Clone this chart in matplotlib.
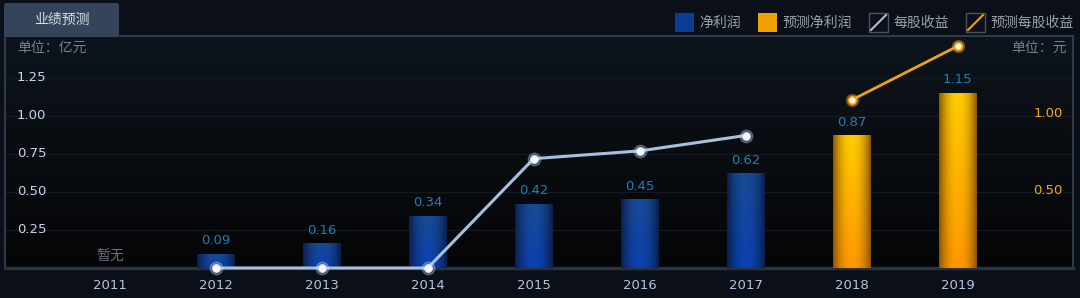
import numpy as np
import matplotlib
matplotlib.use("Agg")
import matplotlib.pyplot as plt
from matplotlib.patches import Rectangle, FancyBboxPatch

plt.rcParams['font.family'] = ['DejaVu Sans', 'Noto Sans CJK SC']
CJK = ['Noto Sans CJK SC', 'DejaVu Sans']

# data
years = ['2011', '2012', '2013', '2014', '2015', '2016', '2017', '2018', '2019']
profit = [None, 0.09, 0.16, 0.34, 0.42, 0.45, 0.62]          # 净利润 (亿元)
profit_fc = [0.87, 1.15]                                      # 预测净利润
eps_years = ['2012', '2013', '2014', '2015', '2016', '2017']
eps = [0.0, 0.0, 0.0, 0.71, 0.76, 0.86]                       # 每股收益 (元)
eps_fc_years = ['2018', '2019']
eps_fc = [1.09, 1.44]                                         # 预测每股收益
left_ticks = [0.25, 0.50, 0.75, 1.00, 1.25]
right_ticks = [0.50, 1.00]

W, H = 1080, 298
fig = plt.figure(figsize=(W / 100, H / 100), dpi=100)
fig.patch.set_facecolor('#0b1018')

# plot area in pixels
L, R, T, B = 5, 1073, 36, 268
ax = fig.add_axes([L / W, 1 - B / H, (R - L) / W, (B - T) / H])
ax.set_xlim(-0.99, 9.09)
ax.set_ylim(0, 1.526)
ax.set_facecolor('#080b10')

# background gradient
g = np.linspace(0, 1, 200)[:, None]
top = np.array([0x0e, 0x14, 0x1c]) / 255
bot = np.array([0x04, 0x05, 0x06]) / 255
bg = (top * (1 - g) + bot * g)[:, None, :].repeat(2, axis=1)
ax.imshow(bg, extent=(0, 1, 0, 1), transform=ax.transAxes, aspect='auto', zorder=0)

for v in left_ticks:
    ax.axhline(v, color='#141a21', lw=1, zorder=1)

xi = np.arange(len(years))


def grad_img(edge, c_top, c_bot, n=64):
    u = np.linspace(0, 1, n)
    prof = 1 - np.abs(2 * u - 1) ** 2.2
    v = np.linspace(0, 1, n)[:, None, None]
    center = np.array(c_top) * (1 - v) + np.array(c_bot) * v
    edge = np.array(edge)
    p = prof[None, :, None]
    return edge * (1 - p) + center * p


def hexrgb(h):
    return [int(h[i:i + 2], 16) / 255 for i in (1, 3, 5)]


blue_img = grad_img(hexrgb('#0a1f4a'), hexrgb('#184a94'), hexrgb('#0b40b0'))
orange_img = grad_img(hexrgb('#8a5600'), hexrgb('#ffcc00'), hexrgb('#ff9800'))

bw = 0.35
px = [i for i, v in enumerate(profit) if v is not None]
pv = [v for v in profit if v is not None]
bars1 = ax.bar(px, pv, width=bw, color='#0c3a90', zorder=2)
fx = [years.index('2018'), years.index('2019')]
bars2 = ax.bar(fx, profit_fc, width=bw, color='#f0a000', zorder=2)

for bars, img in ((bars1, blue_img), (bars2, orange_img)):
    for b in bars:
        x0, y0 = b.get_x(), b.get_y()
        ax.imshow(img, extent=(x0, x0 + b.get_width(), y0, y0 + b.get_height()),
                  aspect='auto', zorder=3)
        ax.text(x0 + b.get_width() / 2, b.get_height() + 0.045, f'{b.get_height():.2f}',
                ha='center', va='bottom', color='#1a80ba', fontsize=9.5, zorder=6)

ax.text(0, 0.03, '暂无', ha='center', va='bottom', color='#6a7078', fontsize=10,
        family=CJK, zorder=6)

ax.set_xticks(xi)
ax.set_xticklabels(years, color='#b4c4dc', fontsize=9.5)
ax.tick_params(axis='x', length=0, pad=8)
ax.set_yticks([])
for s in ax.spines.values():
    s.set_color('#2e3a4a')
    s.set_linewidth(1.5)
ax.spines['bottom'].set_linewidth(2.5)
ax.spines['bottom'].set_color('#28323f')

for v in left_ticks:
    ax.text(12 / (R - L), v, f'{v:.2f}', transform=ax.get_yaxis_transform(),
            ha='left', va='center', color='#c4d6ee', fontsize=9.5, zorder=6)
ax.text(12 / (R - L), 1 - 12 / (B - T), '单位：亿元', transform=ax.transAxes,
        ha='left', va='center', color='#7a8088', fontsize=10, family=CJK)

# right axis (EPS)
ax2 = ax.twinx()
ax2.set_ylim(0, 1.506)
ax2.set_yticks([])
for s in ax2.spines.values():
    s.set_visible(False)
for v in right_ticks:
    ax2.text(1 - 10 / (R - L), v, f'{v:.2f}', transform=ax2.get_yaxis_transform(),
             ha='right', va='center', color='#f2a81a', fontsize=9.5, zorder=6)
ax2.text(1 - 6 / (R - L), 1 - 12 / (B - T), '单位：元', transform=ax2.transAxes,
         ha='right', va='center', color='#7a8088', fontsize=10, family=CJK)

ex = [years.index(y) for y in eps_years]
ax2.plot(ex, eps, color='#a8c0dc', lw=2.2, zorder=5, clip_on=False)
ax2.plot(ex, eps, 'o', ms=9, color='#c8dcf8', alpha=0.3, zorder=5, clip_on=False)
ax2.plot(ex, eps, 'o', ms=5.5, mfc='#f6f9ff', mec='#dce8f8', mew=0.8, zorder=6, clip_on=False)
efx = [years.index(y) for y in eps_fc_years]
ax2.plot(efx, eps_fc, color='#f0a010', lw=2, zorder=5)
ax2.plot(efx, eps_fc, 'o', ms=8.5, color='#ffb020', alpha=0.35, zorder=5)
ax2.plot(efx, eps_fc, 'o', ms=5.5, mfc='#fff6e0', mec='#f5a818', mew=1.2, zorder=6)

# overlay for tab and legend (pixel coordinates)
ov = fig.add_axes([0, 0, 1, 1], zorder=10)
ov.set_xlim(0, W)
ov.set_ylim(H, 0)
ov.axis('off')

tab = FancyBboxPatch((4, 3), 115, 34, boxstyle='round,pad=0,rounding_size=3',
                     facecolor='#34445a', edgecolor='none')
ov.add_patch(tab)
tg = np.linspace(0, 1, 50)[:, None]
tcol = (np.array(hexrgb('#4a5a70')) * (1 - tg) + np.array(hexrgb('#2a3648')) * tg)[:, None, :].repeat(2, axis=1)
im = ov.imshow(tcol, extent=(4, 119, 37, 3), aspect='auto')
im.set_clip_path(tab)
ov.text(61.5, 20, '业绩预测', ha='center', va='center', color='#d8dee6', fontsize=10, family=CJK)

leg_y0, leg_h = 13, 19
ov.add_patch(Rectangle((675, leg_y0), 19, leg_h, facecolor='#0c3c94', edgecolor='none'))
ov.imshow(blue_img, extent=(675, 694, leg_y0 + leg_h, leg_y0), aspect='auto')
ov.text(699, 22.5, '净利润', ha='left', va='center', color='#9aa2aa', fontsize=10, family=CJK)
ov.add_patch(Rectangle((758, leg_y0), 19, leg_h, facecolor='#f0a000', edgecolor='none'))
ov.imshow(orange_img, extent=(758, 777, leg_y0 + leg_h, leg_y0), aspect='auto')
ov.text(782, 22.5, '预测净利润', ha='left', va='center', color='#9aa2aa', fontsize=10, family=CJK)
ov.add_patch(Rectangle((869, leg_y0), 19, leg_h, facecolor='#0c1018', edgecolor='#4a525c', lw=1))
ov.plot([871, 886], [leg_y0 + leg_h - 2, leg_y0 + 2], color='#a8c0dc', lw=1.5)
ov.text(893, 22.5, '每股收益', ha='left', va='center', color='#9aa2aa', fontsize=10, family=CJK)
ov.add_patch(Rectangle((966, leg_y0), 19, leg_h, facecolor='#0c1018', edgecolor='#4a525c', lw=1))
ov.plot([968, 983], [leg_y0 + leg_h - 2, leg_y0 + 2], color='#f0a010', lw=1.5)
ov.text(990, 22.5, '预测每股收益', ha='left', va='center', color='#9aa2aa', fontsize=10, family=CJK)

fig.savefig('out.png', dpi=100, facecolor=fig.get_facecolor())
